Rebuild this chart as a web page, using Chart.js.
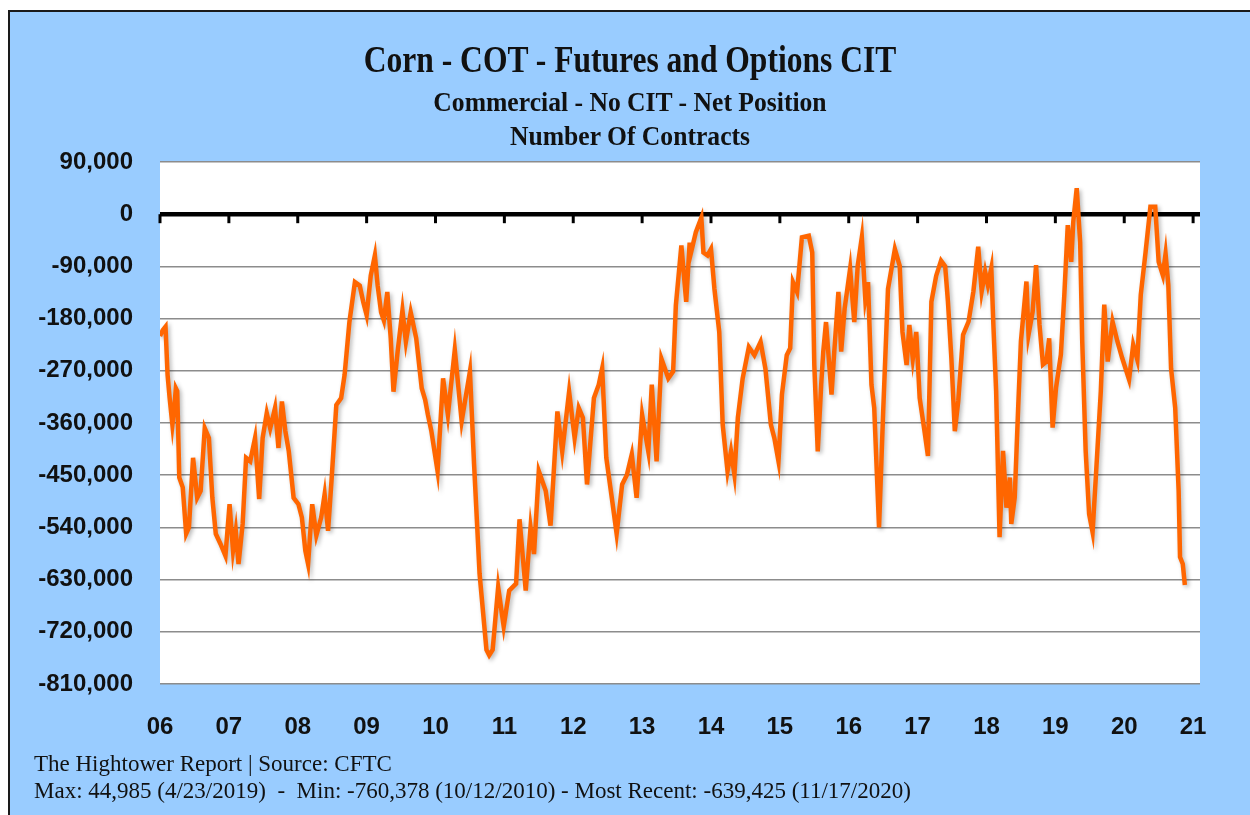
<!DOCTYPE html>
<html>
<head>
<meta charset="utf-8">
<title>Corn - COT - Futures and Options CIT</title>
<script src="https://cdn.jsdelivr.net/npm/chart.js@4.4.1/dist/chart.umd.min.js"></script>
<style>
  html, body { margin: 0; padding: 0; background: #fff; }
  #wrap { position: relative; width: 1250px; height: 815px; overflow: hidden; }
  #frame {
    position: absolute; left: 8px; top: 10px; width: 1260px; height: 820px;
    background: #99ccff; border: 2px solid #1a1a1a; box-sizing: border-box;
  }
  #chart { position: absolute; left: 0; top: 0; }
  .head {
    position: absolute; left: 0; width: 1260px; text-align: center;
    font-family: "Liberation Serif", "Times New Roman", serif; font-weight: bold;
    color: #111; white-space: pre; transform-origin: 630px 0;
  }
  .t1 { top: 40px; font-size: 38px; line-height: 38px; transform: scaleX(0.83); }
  .t2 { font-size: 28px; line-height: 28px; transform: scaleX(0.915); }
  .foot {
    position: absolute; left: 34px; font-family: "Liberation Serif", "Times New Roman", serif;
    font-size: 23px; line-height: 23px; color: #111; white-space: pre;
  }
</style>
</head>
<body>
<div id="wrap">
  <div id="frame"></div>
  <canvas id="chart" width="1250" height="815"></canvas>
  <div class="head t1">Corn - COT - Futures and Options CIT</div>
  <div class="head t2" style="top:88px">Commercial - No CIT - Net Position</div>
  <div class="head t2" style="top:122px">Number Of Contracts</div>
  <div class="foot" style="top:752px">The Hightower Report | Source: CFTC</div>
  <div class="foot" style="top:779px">Max: 44,985 (4/23/2019)  -  Min: -760,378 (10/12/2010) - Most Recent: -639,425 (11/17/2020)</div>
</div>
<script>
// weekly net position (decimal year -> contracts)
const dates = [
  2006.00, 2006.04, 2006.08, 2006.11, 2006.14, 2006.18, 2006.21, 2006.23, 2006.25, 2006.28,
  2006.33, 2006.38, 2006.42, 2006.48, 2006.54, 2006.59, 2006.65, 2006.71, 2006.76, 2006.81,
  2006.88, 2006.95, 2007.01, 2007.06, 2007.10, 2007.14, 2007.20, 2007.25, 2007.31, 2007.38,
  2007.44, 2007.49, 2007.55, 2007.60, 2007.67, 2007.72, 2007.77, 2007.82, 2007.87, 2007.94,
  2008.01, 2008.06, 2008.11, 2008.15, 2008.21, 2008.27, 2008.34, 2008.39, 2008.44, 2008.49,
  2008.56, 2008.63, 2008.68, 2008.75, 2008.83, 2008.90, 2008.95, 2009.00, 2009.06, 2009.12,
  2009.16, 2009.21, 2009.25, 2009.30, 2009.35, 2009.39, 2009.45, 2009.52, 2009.57, 2009.64,
  2009.72, 2009.80, 2009.85, 2009.89, 2009.94, 2010.03, 2010.11, 2010.18, 2010.28, 2010.38,
  2010.50, 2010.56, 2010.64, 2010.74, 2010.78, 2010.83, 2010.91, 2010.99, 2011.07, 2011.17,
  2011.22, 2011.31, 2011.38, 2011.43, 2011.50, 2011.60, 2011.67, 2011.77, 2011.84, 2011.94,
  2012.02, 2012.08, 2012.14, 2012.20, 2012.30, 2012.37, 2012.42, 2012.48, 2012.56, 2012.63,
  2012.71, 2012.78, 2012.85, 2012.92, 2013.00, 2013.09, 2013.14, 2013.21, 2013.28, 2013.38,
  2013.45, 2013.49, 2013.57, 2013.64, 2013.69, 2013.71, 2013.78, 2013.86, 2013.89, 2013.95,
  2014.00, 2014.05, 2014.12, 2014.17, 2014.24, 2014.29, 2014.34, 2014.39, 2014.46, 2014.55,
  2014.63, 2014.72, 2014.79, 2014.87, 2014.92, 2014.98, 2015.03, 2015.10, 2015.15, 2015.19,
  2015.25, 2015.32, 2015.42, 2015.47, 2015.50, 2015.55, 2015.60, 2015.63, 2015.67, 2015.71,
  2015.75, 2015.79, 2015.85, 2015.89, 2015.94, 2016.02, 2016.08, 2016.13, 2016.19, 2016.24,
  2016.28, 2016.33, 2016.37, 2016.44, 2016.50, 2016.57, 2016.67, 2016.74, 2016.78, 2016.84,
  2016.88, 2016.93, 2016.98, 2017.03, 2017.10, 2017.15, 2017.20, 2017.27, 2017.34, 2017.40,
  2017.44, 2017.49, 2017.54, 2017.59, 2017.66, 2017.74, 2017.81, 2017.88, 2017.93, 2017.98,
  2018.02, 2018.07, 2018.10, 2018.14, 2018.19, 2018.24, 2018.29, 2018.34, 2018.36, 2018.41,
  2018.46, 2018.50, 2018.58, 2018.61, 2018.67, 2018.72, 2018.77, 2018.82, 2018.87, 2018.91,
  2018.96, 2019.01, 2019.08, 2019.13, 2019.18, 2019.23, 2019.26, 2019.31, 2019.36, 2019.39,
  2019.44, 2019.49, 2019.54, 2019.59, 2019.66, 2019.71, 2019.76, 2019.83, 2019.90, 2019.97,
  2020.07, 2020.13, 2020.19, 2020.24, 2020.31, 2020.38, 2020.45, 2020.50, 2020.56, 2020.60,
  2020.64, 2020.68, 2020.74, 2020.79, 2020.81, 2020.85, 2020.88
];

const netPos = [
  -210000, -200000, -194000, -277000, -317000, -363000, -330000, -300000, -305000, -454000,
  -471000, -551000, -540000, -420000, -489000, -477000, -369000, -386000, -489000, -551000,
  -569000, -589000, -500000, -580000, -546000, -603000, -534000, -420000, -426000, -386000,
  -491000, -386000, -343000, -369000, -334000, -403000, -323000, -374000, -409000, -489000,
  -500000, -523000, -580000, -603000, -500000, -554000, -523000, -483000, -546000, -460000,
  -329000, -317000, -277000, -186000, -117000, -123000, -151000, -174000, -106000, -71000,
  -123000, -169000, -183000, -134000, -214000, -306000, -237000, -166000, -220000, -169000,
  -214000, -300000, -320000, -346000, -374000, -443000, -283000, -346000, -234000, -357000,
  -271000, -431000, -620000, -751000, -760378, -751000, -643000, -711000, -649000, -637000,
  -526000, -649000, -540000, -586000, -443000, -477000, -537000, -340000, -409000, -306000,
  -386000, -334000, -351000, -466000, -317000, -294000, -266000, -420000, -489000, -551000,
  -466000, -449000, -414000, -489000, -346000, -409000, -294000, -426000, -249000, -283000,
  -271000, -157000, -54000, -151000, -49000, -66000, -31000, -6000, -66000, -71000,
  -60000, -129000, -203000, -363000, -443000, -409000, -449000, -351000, -283000, -229000,
  -243000, -220000, -266000, -363000, -386000, -426000, -311000, -243000, -231000, -117000,
  -134000, -40000, -37000, -66000, -260000, -409000, -294000, -237000, -186000, -249000,
  -311000, -237000, -134000, -237000, -163000, -94000, -186000, -89000, -40000, -146000,
  -117000, -294000, -334000, -540000, -340000, -129000, -60000, -89000, -203000, -260000,
  -191000, -249000, -203000, -317000, -374000, -417000, -151000, -106000, -80000, -90000,
  -150000, -248000, -374000, -322000, -208000, -185000, -133000, -56000, -133000, -99000,
  -122000, -93000, -191000, -305000, -557000, -408000, -506000, -454000, -534000, -488000,
  -334000, -219000, -116000, -208000, -168000, -88000, -191000, -259000, -254000, -214000,
  -368000, -299000, -242000, -139000, -19000, -82000, -13000, 44985, -48000, -219000,
  -408000, -517000, -548000, -448000, -305000, -156000, -254000, -185000, -219000, -248000,
  -285000, -225000, -251000, -139000, -65000, 13000, 13000, -82000, -105000, -68000,
  -122000, -266000, -334000, -477000, -591000, -603000, -639425
];

const yearTicks = [2006, 2007, 2008, 2009, 2010, 2011, 2012, 2013, 2014, 2015, 2016, 2017, 2018, 2019, 2020, 2021];
const yearLabels = ['06', '07', '08', '09', '10', '11', '12', '13', '14', '15', '16', '17', '18', '19', '20', '21'];

const sans = '"Liberation Sans", Arial, sans-serif';

// white plot area, year marks hanging off the zero line, soft shadow on the line
const plotDecor = {
  id: 'plotDecor',
  beforeDraw(chart) {
    const { ctx, chartArea: a } = chart;
    ctx.save();
    ctx.fillStyle = '#ffffff';
    ctx.fillRect(a.left, a.top, a.right - a.left, a.bottom - a.top);
    ctx.restore();
  },
  beforeDatasetsDraw(chart) {
    const { ctx, scales } = chart;
    const y0 = scales.y.getPixelForValue(0);
    ctx.save();
    ctx.strokeStyle = '#000';
    ctx.lineWidth = 3;
    yearTicks.forEach((yr) => {
      const x = scales.x.getPixelForValue(yr);
      ctx.beginPath();
      ctx.moveTo(x, y0);
      ctx.lineTo(x, y0 + 9);
      ctx.stroke();
    });
    ctx.restore();
  },
  beforeDatasetDraw(chart) {
    const ctx = chart.ctx;
    ctx.save();
    ctx.shadowColor = 'rgba(0,0,0,0.28)';
    ctx.shadowBlur = 4;
    ctx.shadowOffsetX = 2;
    ctx.shadowOffsetY = 2;
  },
  afterDatasetDraw(chart) {
    chart.ctx.restore();
  }
};

new Chart(document.getElementById('chart'), {
  type: 'line',
  data: {
    datasets: [{
      label: 'Net Position',
      data: dates.map((d, i) => ({ x: d, y: netPos[i] })),
      borderColor: '#ff6600',
      borderWidth: 4.5,
      pointRadius: 0,
      tension: 0,
      fill: false
    }]
  },
  options: {
    responsive: false,
    animation: false,
    layout: { padding: { left: 30, right: 50, top: 162, bottom: 0 } },
    plugins: {
      legend: { display: false },
      tooltip: { enabled: false }
    },
    scales: {
      x: {
        type: 'linear',
        min: 2006,
        max: 2021.1,
        afterBuildTicks: (scale) => {
          scale.ticks = yearTicks.map((v) => ({ value: v }));
        },
        afterFit: (scale) => { scale.height = 131; },
        grid: { display: false, drawTicks: false },
        border: { display: false },
        ticks: {
          padding: 29,
          color: '#111',
          font: { family: sans, size: 24, weight: 'bold' },
          maxRotation: 0,
          autoSkip: false,
          callback: (v) => yearLabels[yearTicks.indexOf(v)]
        }
      },
      y: {
        min: -810000,
        max: 90000,
        afterFit: (scale) => { scale.width = 130; },
        grid: {
          drawTicks: false,
          color: (c) => (c.tick && c.tick.value === 0 ? '#000' : '#8c8c8c'),
          lineWidth: (c) => (c.tick && c.tick.value === 0 ? 4.5 : 1.5)
        },
        border: { display: false },
        ticks: {
          stepSize: 90000,
          padding: 27,
          color: '#111',
          font: { family: sans, size: 24, weight: 'bold' },
          callback: (v) => v.toLocaleString('en-US')
        }
      }
    }
  },
  plugins: [plotDecor]
});
</script>
</body>
</html>
